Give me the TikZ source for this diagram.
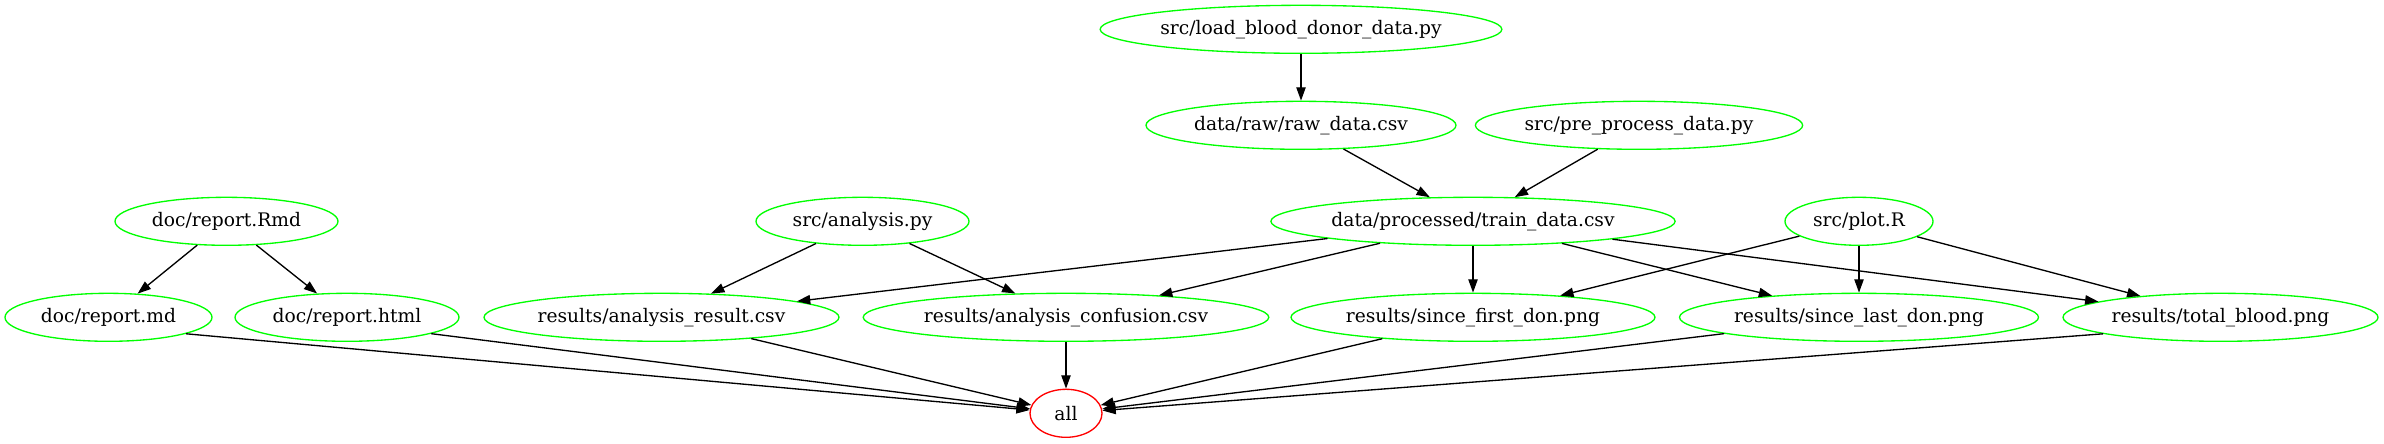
\documentclass[tikz,border=0pt]{standalone}
\usepackage{fontspec}
\setmainfont{DejaVu Serif}
\usetikzlibrary{shapes.geometric,arrows.meta}
\definecolor{gvgreen}{RGB}{0,255,0}
\definecolor{gvred}{RGB}{255,0,0}
\begin{document}
\begin{tikzpicture}[x=0.75pt,y=-0.75pt,
  fnode/.style={ellipse, draw=gvgreen, line width=1pt, inner xsep=1pt, inner ysep=1pt,
    minimum height=36pt, font=\fontsize{14}{16}\selectfont},
  tnode/.style={fnode, draw=gvred},
  conn/.style={draw=black, line width=1pt, -{Triangle[length=10pt,width=7pt]}}]
\useasboundingbox (0,0) rectangle (2384,443);
% row 1
\node[fnode, minimum width=298.5pt] (load) at (1301,29.3) {src/load\_blood\_donor\_data.py};
% row 2
\node[fnode, minimum width=232.5pt] (raw) at (1301,125.3) {data/raw/raw\_data.csv};
\node[fnode, minimum width=238.5pt] (pre) at (1639,125.3) {src/pre\_process\_data.py};
% row 3
\node[fnode, minimum width=167.25pt] (rmd) at (226.5,221.3) {doc/report.Rmd};
\node[fnode, minimum width=159.75pt] (ana) at (862.5,221.3) {src/analysis.py};
\node[fnode, minimum width=301.5pt] (train) at (1473,221.3) {data/processed/train\_data.csv};
\node[fnode, minimum width=111pt] (plot) at (1859,221.3) {src/plot.R};
% row 4
\node[fnode, minimum width=155.25pt] (md) at (108.5,317.3) {doc/report.md};
\node[fnode, minimum width=168pt] (html) at (347,317.3) {doc/report.html};
\node[fnode, minimum width=266.25pt] (res) at (661.5,317.3) {results/analysis\_result.csv};
\node[fnode, minimum width=303pt] (conf) at (1066,317.3) {results/analysis\_confusion.csv};
\node[fnode, minimum width=273pt] (first) at (1473,317.3) {results/since\_first\_don.png};
\node[fnode, minimum width=269.25pt] (last) at (1859,317.3) {results/since\_last\_don.png};
\node[fnode, minimum width=236.25pt] (total) at (2220.5,317.3) {results/total\_blood.png};
% row 5
\node[tnode, minimum width=54pt] (all) at (1066,413.3) {all};
% edges
\draw[conn] (load) -- (raw);
\draw[conn] (raw) -- (train);
\draw[conn] (pre) -- (train);
\draw[conn] (rmd) -- (md);
\draw[conn] (rmd) -- (html);
\draw[conn] (ana) -- (res);
\draw[conn] (ana) -- (conf);
\draw[conn] (train) -- (res);
\draw[conn] (train) -- (conf);
\draw[conn] (train) -- (first);
\draw[conn] (train) -- (last);
\draw[conn] (train) -- (total);
\draw[conn] (plot) -- (first);
\draw[conn] (plot) -- (last);
\draw[conn] (plot) -- (total);
\draw[conn] (md.-12) -- (all);
\draw[conn] (html.-11) -- (all);
\draw[conn] (res) -- (all);
\draw[conn] (conf) -- (all);
\draw[conn] (first) -- (all);
\draw[conn] (last) -- (all);
\draw[conn] (total.-172) -- (all);
\end{tikzpicture}
\end{document}
